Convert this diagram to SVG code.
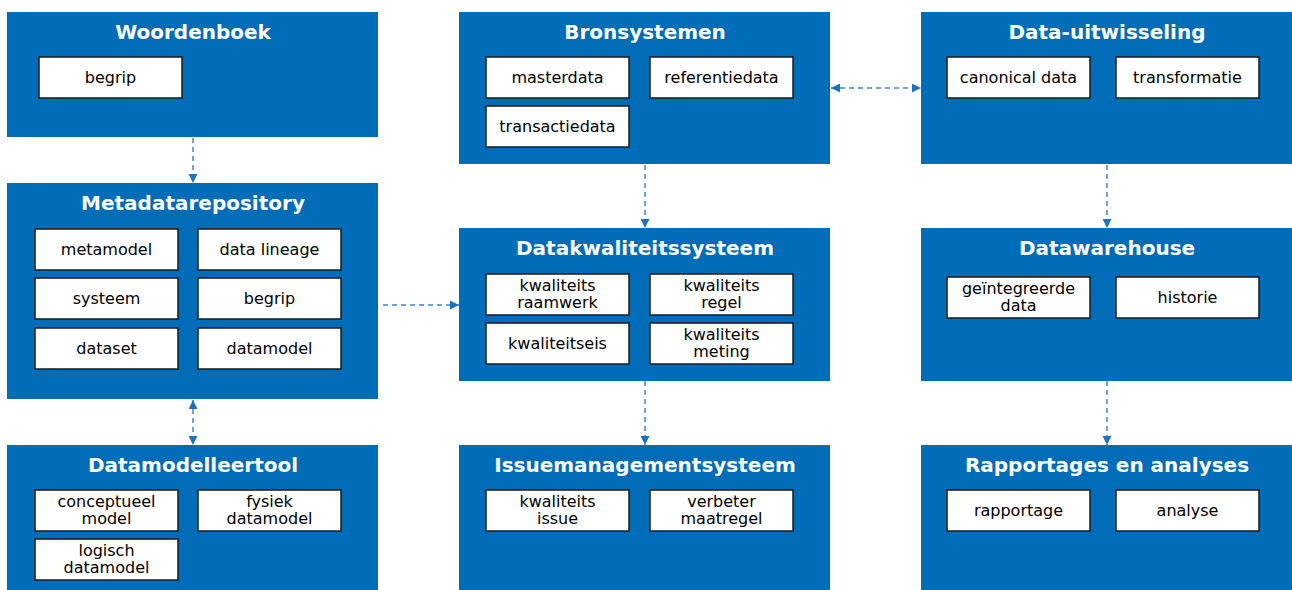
<svg xmlns="http://www.w3.org/2000/svg" width="1292" height="590" viewBox="0 0 1292 590">
<defs>
<style>
.c{fill:#016CB7}
.t{font-family:"DejaVu Sans",Verdana,sans-serif;font-weight:bold;font-size:20px;fill:#fff;text-anchor:middle}
.i{fill:#fff;stroke:#1a1a1a;stroke-width:1.5}
.l{font-family:"DejaVu Sans",Verdana,sans-serif;font-size:16px;fill:#000;text-anchor:middle}
.k{stroke:#3A86CC;stroke-width:1.5;stroke-dasharray:5,4;fill:none}
</style>
<marker id="a" viewBox="0 0 10 10" refX="10" refY="5" markerWidth="9" markerHeight="9" markerUnits="userSpaceOnUse" orient="auto-start-reverse">
<path d="M0,0 L10,5 L0,10 z" fill="#1F72BE"/>
</marker>
</defs>
<g id="connectors">
<line class="k" x1="193" y1="138" x2="193" y2="183" marker-end="url(#a)"/>
<line class="k" x1="193" y1="400" x2="193" y2="445" marker-start="url(#a)" marker-end="url(#a)"/>
<line class="k" x1="645" y1="165" x2="645" y2="228" marker-end="url(#a)"/>
<line class="k" x1="645" y1="381" x2="645" y2="445" marker-end="url(#a)"/>
<line class="k" x1="1107" y1="165" x2="1107" y2="228" marker-end="url(#a)"/>
<line class="k" x1="1107" y1="381" x2="1107" y2="445" marker-end="url(#a)"/>
<line class="k" x1="383" y1="305" x2="459" y2="305" marker-end="url(#a)"/>
<line class="k" x1="831" y1="88" x2="921" y2="88" marker-start="url(#a)" marker-end="url(#a)"/>
</g>
<g id="woordenboek">
<rect class="c" x="7" y="12" width="371" height="125"/>
<text class="t" x="193" y="39">Woordenboek</text>
<rect class="i" x="39" y="57" width="143" height="41"/>
<text class="l" x="110.5" y="83">begrip</text>
</g>
<g id="metadatarepository">
<rect class="c" x="7" y="183" width="371" height="216"/>
<text class="t" x="193" y="210">Metadatarepository</text>
<rect class="i" x="35" y="229" width="143" height="41"/>
<text class="l" x="106.5" y="255">metamodel</text>
<rect class="i" x="198" y="229" width="143" height="41"/>
<text class="l" x="269.5" y="255">data lineage</text>
<rect class="i" x="35" y="278" width="143" height="41"/>
<text class="l" x="106.5" y="304">systeem</text>
<rect class="i" x="198" y="278" width="143" height="41"/>
<text class="l" x="269.5" y="304">begrip</text>
<rect class="i" x="35" y="328" width="143" height="41"/>
<text class="l" x="106.5" y="354">dataset</text>
<rect class="i" x="198" y="328" width="143" height="41"/>
<text class="l" x="269.5" y="354">datamodel</text>
</g>
<g id="datamodelleertool">
<rect class="c" x="7" y="445" width="371" height="145"/>
<text class="t" x="193" y="472">Datamodelleertool</text>
<rect class="i" x="35" y="490" width="143" height="41"/>
<text class="l" x="106.5" y="507">conceptueel</text>
<text class="l" x="106.5" y="524">model</text>
<rect class="i" x="198" y="490" width="143" height="41"/>
<text class="l" x="269.5" y="507">fysiek</text>
<text class="l" x="269.5" y="524">datamodel</text>
<rect class="i" x="35" y="539" width="143" height="41"/>
<text class="l" x="106.5" y="556">logisch</text>
<text class="l" x="106.5" y="573">datamodel</text>
</g>
<g id="bronsystemen">
<rect class="c" x="459" y="12" width="371" height="152"/>
<text class="t" x="645" y="39">Bronsystemen</text>
<rect class="i" x="486" y="57" width="143" height="41"/>
<text class="l" x="557.5" y="83">masterdata</text>
<rect class="i" x="650" y="57" width="143" height="41"/>
<text class="l" x="721.5" y="83">referentiedata</text>
<rect class="i" x="486" y="106" width="143" height="41"/>
<text class="l" x="557.5" y="132">transactiedata</text>
</g>
<g id="data-uitwisseling">
<rect class="c" x="921" y="12" width="371" height="152"/>
<text class="t" x="1107" y="39">Data-uitwisseling</text>
<rect class="i" x="947" y="57" width="143" height="41"/>
<text class="l" x="1018.5" y="83">canonical data</text>
<rect class="i" x="1116" y="57" width="143" height="41"/>
<text class="l" x="1187.5" y="83">transformatie</text>
</g>
<g id="datakwaliteitssysteem">
<rect class="c" x="459" y="228" width="371" height="153"/>
<text class="t" x="645" y="255">Datakwaliteitssysteem</text>
<rect class="i" x="486" y="274" width="143" height="41"/>
<text class="l" x="557.5" y="291">kwaliteits</text>
<text class="l" x="557.5" y="308">raamwerk</text>
<rect class="i" x="650" y="274" width="143" height="41"/>
<text class="l" x="721.5" y="291">kwaliteits</text>
<text class="l" x="721.5" y="308">regel</text>
<rect class="i" x="486" y="323" width="143" height="41"/>
<text class="l" x="557.5" y="349">kwaliteitseis</text>
<rect class="i" x="650" y="323" width="143" height="41"/>
<text class="l" x="721.5" y="340">kwaliteits</text>
<text class="l" x="721.5" y="357">meting</text>
</g>
<g id="datawarehouse">
<rect class="c" x="921" y="228" width="371" height="153"/>
<text class="t" x="1107" y="255">Datawarehouse</text>
<rect class="i" x="947" y="277" width="143" height="41"/>
<text class="l" x="1018.5" y="294">geïntegreerde</text>
<text class="l" x="1018.5" y="311">data</text>
<rect class="i" x="1116" y="277" width="143" height="41"/>
<text class="l" x="1187.5" y="303">historie</text>
</g>
<g id="issuemanagementsysteem">
<rect class="c" x="459" y="445" width="371" height="145"/>
<text class="t" x="645" y="472">Issuemanagementsysteem</text>
<rect class="i" x="486" y="490" width="143" height="41"/>
<text class="l" x="557.5" y="507">kwaliteits</text>
<text class="l" x="557.5" y="524">issue</text>
<rect class="i" x="650" y="490" width="143" height="41"/>
<text class="l" x="721.5" y="507">verbeter</text>
<text class="l" x="721.5" y="524">maatregel</text>
</g>
<g id="rapportages">
<rect class="c" x="921" y="445" width="371" height="145"/>
<text class="t" x="1107" y="472">Rapportages en analyses</text>
<rect class="i" x="947" y="490" width="143" height="41"/>
<text class="l" x="1018.5" y="516">rapportage</text>
<rect class="i" x="1116" y="490" width="143" height="41"/>
<text class="l" x="1187.5" y="516">analyse</text>
</g>
</svg>
